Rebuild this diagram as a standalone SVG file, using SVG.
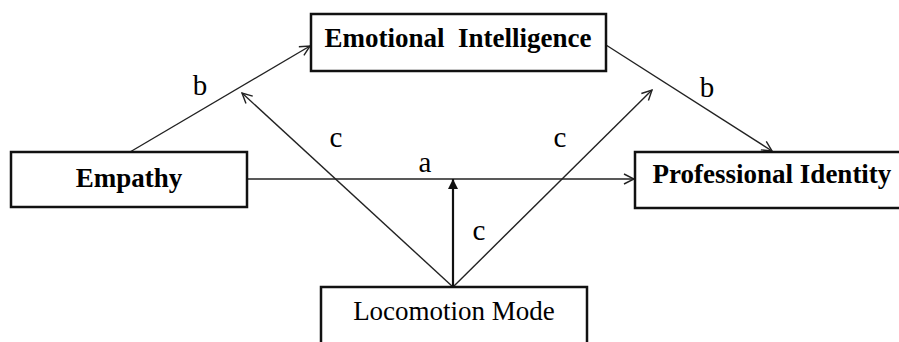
<svg xmlns="http://www.w3.org/2000/svg" width="899" height="342" viewBox="0 0 899 342">
<style>
.box{fill:#fff;stroke:#111;stroke-width:2.5}
.lbl{font-family:"Liberation Serif","Times New Roman",serif;font-weight:bold;font-size:27px;fill:#000;text-anchor:middle}
.reg{font-weight:normal}
.edge{stroke:#222;stroke-width:1.4;fill:none;marker-end:url(#open)}
.thick{stroke:#111;stroke-width:2.2;fill:none;marker-end:url(#solid)}
.el{font-family:"Liberation Serif","Times New Roman",serif;font-size:29px;fill:#000;text-anchor:middle}
</style>
<defs>
<marker id="open" viewBox="0 0 12 12" refX="11" refY="6" markerWidth="12" markerHeight="12" markerUnits="userSpaceOnUse" orient="auto">
<path d="M1,1 L11,6 L1,11" fill="none" stroke="#222" stroke-width="1.4"/>
</marker>
<marker id="solid" viewBox="0 0 10 14" refX="10" refY="7" markerWidth="10" markerHeight="14" markerUnits="userSpaceOnUse" orient="auto">
<path d="M0,2 L10,7 L0,12 Z" fill="#111"/>
</marker>
</defs>
<rect width="899" height="342" fill="#fff"/>
<g id="connectors">
<line class="edge" x1="130" y1="152" x2="310" y2="46"/>
<line class="edge" x1="606" y1="45" x2="772" y2="151"/>
<line class="edge" x1="453" y1="287" x2="242" y2="93"/>
<line class="edge" x1="453" y1="287" x2="652" y2="90"/>
<line class="edge" x1="247" y1="179" x2="634" y2="179"/>
<line class="thick" x1="453" y1="287" x2="453" y2="179"/>
<text class="el" x="200" y="95">b</text>
<text class="el" x="707" y="97">b</text>
<text class="el" x="336" y="147">c</text>
<text class="el" x="560" y="147">c</text>
<text class="el" x="425" y="172">a</text>
<text class="el" x="479" y="240">c</text>
</g>
<g id="emotional-intelligence">
<rect class="box" x="311" y="14" width="295" height="57"/>
<text class="lbl" x="458" y="47" xml:space="preserve">Emotional  Intelligence</text>
</g>
<g id="empathy">
<rect class="box" x="11" y="152" width="236" height="55"/>
<text class="lbl" x="129" y="187" font-size="25">Empathy</text>
</g>
<g id="professional-identity">
<rect class="box" x="635" y="152" width="280" height="56"/>
<text class="lbl" x="772" y="183">Professional Identity</text>
</g>
<g id="locomotion-mode">
<rect class="box" x="321" y="287" width="266" height="70"/>
<text class="lbl reg" x="454" y="320">Locomotion Mode</text>
</g>
</svg>
